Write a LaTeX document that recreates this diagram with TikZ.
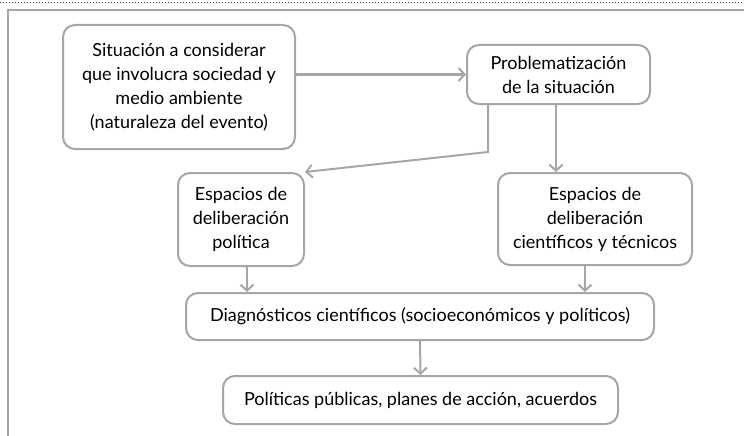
\documentclass[tikz,border=0pt]{standalone}
\usepackage{fontspec}
\setmainfont{Lato}
\usetikzlibrary{arrows.meta}
\definecolor{framegray}{HTML}{A6A6A6}
\begin{document}
\begin{tikzpicture}[x=1pt,y=-1pt,
  box/.style={draw=framegray, line width=2pt, rounded corners=12pt, fill=white, align=center, inner sep=0pt},
  conn/.style={draw=framegray, line width=2pt, -{Straight Barb[length=6pt,width=13pt,line width=2pt]}},
  font=\fontsize{18}{24}\selectfont]
\useasboundingbox (0,0) rectangle (744,436);
\draw[dotted, line width=1pt, black!70] (0,3) -- (744,3);
\draw[framegray, line width=2pt] (8,436) -- (8,10) -- (744,10);

\node[box, minimum width=232pt, minimum height=124pt] (sit) at (179,87)
  {Situación a considerar\\que involucra sociedad y\\medio ambiente\\(naturaleza del evento)};
\node[box, minimum width=183pt, minimum height=59pt] (prob) at (558.5,74.5)
  {Problematización\\de la situación};
\node[box, minimum width=126pt, minimum height=93pt] (pol) at (241,219.5)
  {Espacios de\\deliberación\\política};
\node[box, minimum width=194pt, minimum height=92pt] (cien) at (595,219)
  {Espacios de\\deliberación\\científicos y técnicos};
\node[box, minimum width=468pt, minimum height=47pt] (diag) at (420,316.5)
  {Diagnósticos científicos (socioeconómicos y políticos)};
\node[box, minimum width=395pt, minimum height=48pt] (pols) at (420.5,400)
  {Políticas públicas, planes de acción, acuerdos};

\coordinate (bend) at (488,152);
\draw[conn] (sit.east |- prob.west) -- (prob.west);
\draw[conn] (prob.south -| 556,0) -- (cien.north -| 556,0);
\draw[conn] (prob.south -| bend) -- (bend) -- (pol.north east);
\draw[conn] (pol.south -| 247,0) -- (diag.north -| 247,0);
\draw[conn] (cien.south -| 585,0) -- (diag.north -| 585,0);
\draw[conn] (diag.south) -- (pols.north);
\end{tikzpicture}
\end{document}
